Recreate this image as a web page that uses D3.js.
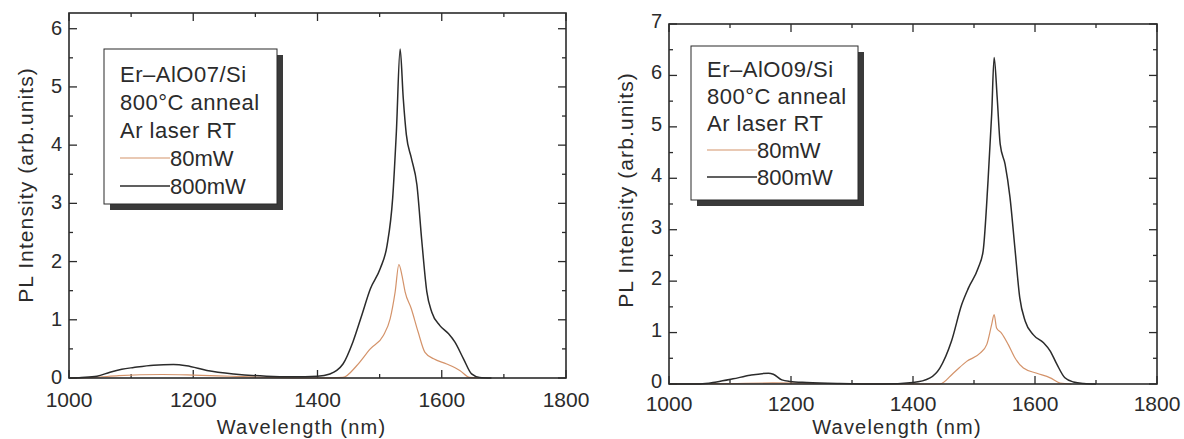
<!DOCTYPE html>
<html>
<head>
<meta charset="utf-8">
<script src="https://cdn.jsdelivr.net/npm/d3@7"></script>
<style>
  body { margin: 0; background: #fff; }
  svg { display: block; font-family: "Liberation Sans", Arial, sans-serif; }
</style>
</head>
<body>
<svg id="chart" width="1184" height="439"></svg>
<script>
// Wavelength (nm) / PL intensity pairs
const alo07_80mW = [
  [1000, 0], [1040, 0.01], [1080, 0.04], [1150, 0.06], [1200, 0.05], [1260, 0.03],
  [1320, 0.01], [1400, 0], [1441, 0.01], [1463, 0.21], [1485, 0.5], [1506, 0.73],
  [1517, 1.02], [1525, 1.48], [1531, 1.95], [1536, 1.76], [1541, 1.48], [1551, 1.19],
  [1562, 0.79], [1573, 0.44], [1587, 0.33], [1608, 0.24], [1629, 0.13], [1645, 0.01],
  [1660, 0]
];
const alo07_800mW = [
  [1000, 0], [1020, 0.01], [1045, 0.03], [1066, 0.1], [1085, 0.15], [1104, 0.18],
  [1136, 0.22], [1168, 0.23], [1189, 0.21], [1222, 0.13], [1265, 0.07], [1318, 0.03],
  [1360, 0.02], [1400, 0.03], [1420, 0.07], [1431, 0.13], [1441, 0.24], [1457, 0.62],
  [1471, 1.07], [1485, 1.53], [1501, 1.88], [1512, 2.28], [1521, 3.09], [1527, 4.24],
  [1533, 5.65], [1538, 4.81], [1543, 4.18], [1551, 3.78], [1560, 3.32], [1568, 2.34],
  [1576, 1.48], [1584, 1.13], [1597, 0.9], [1611, 0.76], [1621, 0.62], [1635, 0.33],
  [1648, 0.07], [1661, 0.01], [1680, 0]
];
const alo09_80mW = [
  [1000, 0], [1100, 0.01], [1170, 0.02], [1250, 0.01], [1444, 0], [1466, 0.21],
  [1488, 0.44], [1510, 0.6], [1521, 0.77], [1529, 1.16], [1533, 1.35], [1537, 1.09],
  [1545, 0.99], [1556, 0.77], [1567, 0.51], [1581, 0.31], [1603, 0.21], [1625, 0.12],
  [1641, 0.02], [1660, 0]
];
const alo09_800mW = [
  [1000, 0], [1051, 0], [1078, 0.04], [1105, 0.1], [1133, 0.17], [1163, 0.21],
  [1171, 0.19], [1185, 0.08], [1198, 0.05], [1226, 0.03], [1280, 0.01], [1350, 0],
  [1400, 0.03], [1428, 0.12], [1444, 0.31], [1463, 0.83], [1480, 1.55], [1491, 1.87],
  [1507, 2.26], [1515, 2.59], [1523, 3.95], [1529, 5.25], [1533, 6.35], [1538, 5.57],
  [1543, 4.66], [1551, 4.27], [1559, 3.63], [1567, 2.65], [1575, 1.68], [1584, 1.22],
  [1597, 0.96], [1614, 0.8], [1625, 0.64], [1636, 0.38], [1649, 0.12], [1663, 0.04],
  [1680, 0.01], [1700, 0]
];

const seriesNames = ['80mW', '800mW'];
const sampleNames = ['Er\u2013AlO07/Si', 'Er\u2013AlO09/Si'];
const conditionLines = ['800\u00B0C anneal', 'Ar laser RT'];
const xTicks = [1000, 1200, 1400, 1600, 1800];
const xLabel = 'Wavelength (nm)';
const yLabel = 'PL Intensity (arb.units)';

const ink = '#2b2b2b';
const colors = ['#d4936a', '#2b2b2b'];

const svg = d3.select('#chart');

function drawPanel(opts) {
  const x = d3.scaleLinear().domain([1000, 1800]).range([opts.left, opts.right]);
  const y = d3.scaleLinear().domain([0, opts.yMax]).range([opts.bottom, opts.top]);
  const g = svg.append('g');

  // inward ticks on all four sides (long at labelled values)
  const xMinor = d3.range(1000, 1801, 100);
  const yMinor = d3.range(0, opts.yMax + 0.001, 0.5);
  xMinor.forEach(v => {
    const len = v % 200 === 0 ? 8 : 4;
    g.append('line').attr('x1', x(v)).attr('x2', x(v))
        .attr('y1', opts.bottom).attr('y2', opts.bottom - len)
        .attr('stroke', ink).attr('stroke-width', 1.3);
    g.append('line').attr('x1', x(v)).attr('x2', x(v))
        .attr('y1', opts.top).attr('y2', opts.top + len)
        .attr('stroke', ink).attr('stroke-width', 1.3);
  });
  yMinor.forEach(v => {
    const len = Number.isInteger(v) ? 8 : 4;
    g.append('line').attr('x1', opts.left).attr('x2', opts.left + len)
        .attr('y1', y(v)).attr('y2', y(v))
        .attr('stroke', ink).attr('stroke-width', 1.3);
    g.append('line').attr('x1', opts.right).attr('x2', opts.right - len)
        .attr('y1', y(v)).attr('y2', y(v))
        .attr('stroke', ink).attr('stroke-width', 1.3);
  });

  // tick labels
  g.selectAll('.xt').data(xTicks).enter().append('text')
      .attr('x', d => x(d)).attr('y', opts.bottom + opts.xLabelGap)
      .attr('text-anchor', 'middle').attr('font-size', 21).attr('fill', ink)
      .text(d => d);
  g.selectAll('.yt').data(d3.range(0, Math.floor(opts.yMax) + 1)).enter().append('text')
      .attr('x', opts.left - 7).attr('y', d => y(d) + opts.yLabelDy)
      .attr('text-anchor', 'end').attr('font-size', 20).attr('fill', ink)
      .text(d => d);

  // axis titles
  g.append('text')
      .attr('x', (opts.left + opts.right) / 2 - 16).attr('y', 434)
      .attr('text-anchor', 'middle').attr('font-size', 20)
      .attr('letter-spacing', 1.2).attr('fill', ink)
      .text(xLabel);
  g.append('text')
      .attr('transform', `translate(${opts.left - 36}, ${opts.titleY}) rotate(-90)`)
      .attr('text-anchor', 'middle').attr('font-size', 21)
      .attr('letter-spacing', 1.1).attr('fill', ink)
      .text(yLabel);

  // spectra
  const line = d3.line()
      .x(d => x(d[0]))
      .y(d => y(d[1]))
      .curve(d3.curveMonotoneX);
  opts.series.forEach((s, i) => {
    g.append('path')
        .datum(s)
        .attr('d', line)
        .attr('fill', 'none')
        .attr('stroke', colors[i])
        .attr('stroke-width', i === 0 ? 1.2 : 1.5);
  });

  // frame
  g.append('rect')
      .attr('x', opts.left).attr('y', opts.top)
      .attr('width', opts.right - opts.left).attr('height', opts.bottom - opts.top)
      .attr('fill', 'none').attr('stroke', ink).attr('stroke-width', 1.6);

  // legend box with drop shadow
  const lb = opts.legend;
  g.append('rect')
      .attr('x', lb.x + 6).attr('y', lb.y + 6).attr('width', lb.w).attr('height', lb.h)
      .attr('fill', '#3a3a3a');
  g.append('rect')
      .attr('x', lb.x).attr('y', lb.y).attr('width', lb.w).attr('height', lb.h)
      .attr('fill', '#fff').attr('stroke', ink).attr('stroke-width', 1);

  const rows = [opts.sample].concat(conditionLines);
  rows.forEach((t, i) => {
    g.append('text')
        .attr('x', lb.x + 16).attr('y', lb.y + lb.first + i * lb.step)
        .attr('font-size', 22).attr('letter-spacing', 0.5).attr('fill', ink)
        .text(t);
  });
  seriesNames.forEach((name, i) => {
    const by = lb.y + lb.first + (rows.length + i) * lb.step;
    g.append('line')
        .attr('x1', lb.x + 16).attr('x2', lb.x + 66)
        .attr('y1', by - 8).attr('y2', by - 8)
        .attr('stroke', colors[i]).attr('stroke-width', i === 0 ? 1.2 : 1.5);
    g.append('text')
        .attr('x', lb.x + 66).attr('y', by)
        .attr('font-size', 22).attr('fill', ink)
        .text(name);
  });
}

drawPanel({
  left: 69, right: 566, top: 13, bottom: 378, yMax: 6.27, titleY: 185,
  xLabelGap: 29, yLabelDy: 6,
  sample: sampleNames[0], series: [alo07_80mW, alo07_800mW],
  legend: { x: 104, y: 49, w: 173, h: 155, first: 33, step: 28 }
});
drawPanel({
  left: 669, right: 1157, top: 24, bottom: 384, yMax: 7, titleY: 190,
  xLabelGap: 27, yLabelDy: 4,
  sample: sampleNames[1], series: [alo09_80mW, alo09_800mW],
  legend: { x: 691, y: 46, w: 167, h: 154, first: 31, step: 27 }
});
</script>
</body>
</html>
